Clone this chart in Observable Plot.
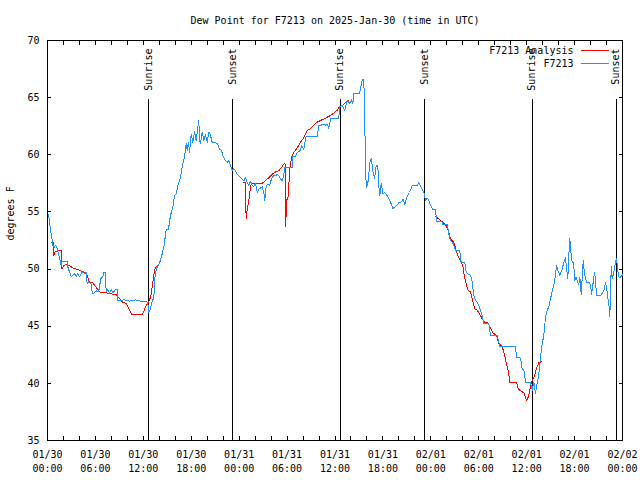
<!DOCTYPE html>
<html>
<head>
<meta charset="utf-8">
<script src="https://cdn.jsdelivr.net/npm/d3@7"></script>
<script src="https://cdn.jsdelivr.net/npm/@observablehq/plot@0.6"></script>
<style>
  html, body { margin: 0; padding: 0; background: #fff; }
  svg { shape-rendering: crispEdges; }
  svg text { shape-rendering: auto; }
</style>
</head>
<body>
<div id="chart"></div>
<script>
// ---- data (hours after 2025-01-30 00:00 UTC, dew point in °F) ----
const startTime = "2025-01-30T00:00:00Z";
const endTime = "2025-02-02T00:00:00Z";
const titleText = "Dew Point for F7213 on 2025-Jan-30 (time in UTC)";
const yLabel = "degrees F";
const seriesNames = ["F7213 Analysis", "F7213"];

const stationHours = [
  0.13, 0.38, 0.54, 0.66, 0.88, 1.0, 1.21, 1.5, 1.72, 1.79, 2.47, 2.5, 2.63, 2.97, 3.38, 3.59, 3.79, 4.01, 4.22, 4.42,
  4.63, 4.85, 4.97, 5.17, 5.47, 5.6, 5.8, 6.1, 6.3, 6.51, 6.64, 6.92, 7.05, 7.23, 7.35, 7.55, 7.76, 7.98, 8.18, 8.48,
  8.73, 8.75, 9.6, 10.3, 11.0, 11.6, 12.36, 12.56, 12.68, 12.9, 13.06, 13.31, 13.49, 13.74, 14.02, 14.24, 14.56, 14.86, 15.15, 15.4,
  15.69, 15.9, 16.12, 16.32, 16.65, 16.94, 17.15, 17.37, 17.49, 17.66, 17.78, 17.99, 18.19, 18.41, 18.62, 18.82, 18.95, 19.03, 19.16, 19.37,
  19.57, 19.78, 20.0, 20.2, 20.41, 20.62, 21.25, 21.54, 21.79, 21.95, 22.29, 22.5, 22.7, 22.92, 23.13, 23.33, 23.54, 23.75, 24.17, 24.58,
  24.79, 25.0, 25.21, 25.42, 25.63, 25.83, 26.05, 26.26, 26.46, 26.88, 27.09, 27.21, 27.39, 27.64, 27.8, 28.05, 28.34, 28.64, 28.76, 28.96,
  29.18, 29.39, 29.59, 29.71, 30.64, 30.72, 31.05, 31.27, 31.68, 31.81, 32.09, 32.22, 32.39, 33.77, 33.97, 34.31, 34.47, 34.81, 35.02, 35.22,
  35.44, 36.48, 36.56, 36.9, 37.23, 37.53, 37.82, 38.07, 38.23, 38.36, 39.07, 39.41, 39.61, 39.82, 39.91, 40.11, 40.23, 40.41, 40.57, 40.73,
  40.95, 41.16, 41.36, 41.48, 41.61, 41.79, 41.99, 42.24, 42.54, 42.74, 42.95, 43.24, 43.58, 43.99, 44.33, 44.54, 44.74, 45.04, 45.33, 45.67,
  46.29, 46.49, 46.71, 46.92, 47.12, 47.33, 47.55, 47.75, 47.96, 48.25, 48.59, 48.71, 49.34, 49.5, 50.05, 50.25, 50.46, 50.68, 50.88, 51.09,
  51.63, 51.72, 51.93, 52.25, 52.43, 52.68, 52.97, 53.18, 53.38, 53.59, 53.81, 54.01, 54.22, 54.43, 54.63, 55.26, 55.47, 56.31, 56.64, 58.6,
  58.73, 59.14, 59.32, 59.44, 59.64, 59.86, 60.48, 60.69, 60.9, 61.11, 61.32, 61.52, 61.73, 61.95, 62.15, 62.36, 62.57, 62.77, 62.99, 63.2,
  63.49, 63.61, 63.74, 63.9, 64.15, 64.45, 64.65, 64.86, 64.99, 65.15, 65.28, 65.4, 65.58, 65.7, 65.87, 66.03, 66.2, 66.33, 66.53, 66.66,
  66.83, 66.96, 67.08, 67.24, 67.49, 67.78, 68.0, 68.12, 68.33, 68.5, 68.62, 68.75, 69.25, 69.58, 69.75, 69.87, 70.0, 70.16, 70.29, 70.41,
  70.59, 70.71, 70.91, 71.12, 71.25, 71.41, 71.54, 71.75, 72.0
];
const stationValues = [
  54.8, 53.4, 52.8, 52.1, 51.9, 52.1, 51.8, 51.0, 50.3, 50.7, 50.7, 50.3, 50.0, 49.35, 49.6, 49.35, 49.6, 49.35, 49.6, 49.8,
  49.6, 49.7, 48.7, 48.9, 48.7, 47.9, 47.9, 48.1, 48.0, 48.3, 49.15, 49.3, 49.7, 49.7, 48.0, 48.2, 47.9, 48.2, 47.9, 48.2,
  48.2, 47.25, 47.3, 47.2, 47.3, 47.2, 47.2, 47.0, 46.2, 46.5, 47.1, 47.5, 49.6, 50.2, 50.5, 51.0, 51.9, 53.4, 53.5, 54.7,
  55.4, 56.4, 56.6, 57.3, 58.0, 59.2, 59.8, 60.96, 60.4, 61.1, 60.2, 61.8, 61.1, 62.0, 61.25, 62.4, 63.0, 61.25, 61.0, 62.0,
  61.25, 61.8, 61.1, 62.0, 61.7, 61.1, 61.0, 60.5, 60.4, 59.9, 59.5, 59.35, 59.5, 59.1, 58.6, 58.8, 58.6, 58.3, 58.0, 57.7,
  58.0, 57.6, 57.3, 57.7, 57.3, 57.2, 57.5, 56.7, 57.0, 57.2, 56.7, 56.0, 57.3, 57.4, 57.3, 57.9, 58.2, 58.2, 58.3, 58.2,
  57.9, 57.7, 58.3, 58.86, 58.86, 59.85, 59.85, 60.2, 60.4, 60.8, 60.5, 61.0, 61.6, 61.6, 62.6, 62.6, 62.7, 62.6, 62.7, 62.3,
  63.15, 63.15, 64.2, 64.3, 63.9, 64.75, 64.5, 64.8, 64.45, 65.33, 65.33, 66.6, 66.6, 59.5, 57.1, 57.5, 58.3, 59.5, 59.65, 58.6,
  57.9, 59.1, 59.1, 57.3, 56.4, 57.5, 56.6, 56.7, 56.4, 56.2, 55.85, 55.3, 55.45, 55.8, 55.9, 56.1, 55.65, 56.4, 56.7, 57.3,
  57.3, 57.6, 57.3, 57.0, 56.7, 56.0, 56.2, 56.0, 55.6, 55.2, 55.2, 54.2, 54.2, 53.9, 53.9, 53.1, 52.5, 52.35, 52.1, 51.6,
  51.6, 50.75, 50.6, 50.6, 49.7, 49.55, 49.45, 48.9, 47.7, 47.25, 47.1, 46.8, 46.4, 45.9, 45.2, 45.2, 44.2, 44.2, 43.2, 43.2,
  42.25, 42.25, 41.9, 41.2, 41.2, 40.1, 40.1, 39.4, 40.1, 39.15, 40.0, 40.8, 42.3, 43.5, 44.2, 45.8, 46.4, 46.7, 47.4, 48.1,
  48.85, 49.6, 50.3, 49.9, 49.45, 50.0, 50.6, 51.0, 50.1, 49.15, 51.2, 52.65, 51.2, 50.6, 50.6, 49.0, 49.3, 49.0, 48.6, 49.3,
  47.8, 49.3, 50.75, 49.6, 48.85, 48.85, 48.6, 47.8, 48.85, 49.7, 49.0, 47.7, 47.7, 48.0, 48.3, 48.85, 48.4, 47.5, 46.95, 45.8,
  50.2, 49.15, 49.7, 50.6, 50.9, 49.9, 49.3, 49.3, 49.5
];

// analysis series; null marks a gap in the line
const analysisHours = [
  0.54, 0.75, 0.8, 0.96, 1.29, 1.72, 1.79, 2.04, 2.34, 2.76, 3.17, 3.59, 4.01, 4.42, 4.85, 5.05, 5.26, 5.68, 6.1, 6.51,
  7.55, 8.18, 8.6, 9.02, 9.43, 9.85, 10.27, 10.56, 11.86, 12.36, 12.77, 12.98, 13.19, 13.4, 13.61, 13.8,
  19.0,
  24.58, 24.79, 24.87, 25.0, 25.2, 25.4, 25.5, 25.83, 26.88, 27.3, 27.72, 28.14, 28.56, 28.97, 29.31, 29.6, 29.74, 29.82, 29.95,
  30.16, 30.31, 30.56, 30.85, 31.27, 31.68, 32.1, 32.52, 32.93, 33.35, 33.77, 34.19, 34.81, 35.44, 35.86, 36.27, 36.56, 36.9, 37.23, 37.72,
  43.0,
  48.59, 49.22, 49.84, 50.18, 50.46, 50.88, 51.17, 51.5, 51.84, 52.0, 52.13, 52.43, 52.68, 52.97, 53.18, 53.5, 53.81, 54.09, 54.43, 54.76,
  55.17, 55.51, 55.81, 56.22, 56.51, 56.94, 57.19, 57.47, 57.76, 57.89, 58.73, 58.94, 59.36, 59.69, 59.98, 60.19, 60.4, 60.6, 60.94, 61.23,
  61.52, 61.86
];
const analysisValues = [
  52.35, 52.3, 51.2, 51.5, 51.6, 51.6, 50.0, 50.3, 50.45, 50.3, 50.1, 50.0, 49.9, 49.7, 49.7, 49.3, 48.85, 48.8, 48.4, 48.0,
  47.9, 47.8, 47.8, 47.4, 47.1, 47.0, 46.4, 46.0, 46.0, 46.8, 47.25, 47.8, 48.85, 49.9, 50.2, 50.2,
  null,
  57.6, 57.6, 54.4, 55.2, 56.0, 57.0, 57.4, 57.5, 57.5, 57.75, 58.0, 58.3, 58.5, 58.6, 58.9, 59.2, 59.2, 53.7, 56.0,
  56.4, 58.6, 59.8, 60.2, 60.6, 61.1, 61.5, 62.1, 62.3, 62.6, 62.85, 63.0, 63.2, 63.45, 63.65, 63.9, 64.2, 64.3, 64.5, 64.75,
  null,
  54.6, 54.25, 53.9, 53.4, 52.65, 52.35, 51.6, 51.0, 50.6, 50.3, 49.6, 48.7, 48.1, 48.0, 47.4, 46.5, 46.4, 46.1, 45.65, 45.35,
  45.3, 44.8, 44.4, 44.2, 43.5, 43.2, 42.6, 41.7, 40.85, 40.1, 40.1, 39.5, 39.3, 39.15, 38.5, 38.8, 39.4, 40.1, 40.6, 41.3,
  41.8, 41.9
];

const sunLabels = ["Sunrise", "Sunset", "Sunrise", "Sunset", "Sunrise", "Sunset"];
const sunTimes = ["2025-01-30T12:41Z", "2025-01-30T23:13Z", "2025-01-31T12:39Z", "2025-01-31T23:11Z", "2025-02-01T12:41Z", "2025-02-01T23:12Z"];

const yTicks = [35, 40, 45, 50, 55, 60, 65, 70];

// ---- build tables ----
const t0 = new Date(startTime);
const t1 = new Date(endTime);
const toDate = h => new Date(t0.getTime() + h * 3600e3);
const station = stationHours.map((h, i) => ({time: toDate(h), value: stationValues[i]}));
const analysis = analysisHours.map((h, i) => ({time: toDate(h), value: analysisValues[i] == null ? NaN : analysisValues[i]}));
const sun = sunTimes.map((t, i) => ({time: new Date(t), label: sunLabels[i]}));
const minorTicks = d3.utcHour.every(2).range(t0, new Date(t1.getTime() + 1));
const majorTicks = d3.utcHour.every(6).range(t0, new Date(t1.getTime() + 1));

const RED = "#ff0000";
const BLUE = "#1e90ff";

const chart = Plot.plot({
  width: 640,
  height: 480,
  marginLeft: 47,
  marginRight: 18,
  marginTop: 40,
  marginBottom: 40,
  style: {fontFamily: "'DejaVu Sans Mono', monospace", fontSize: "10px", background: "white", color: "black"},
  x: {type: "utc", domain: [t0, t1]},
  y: {domain: [35, 70]},
  marks: [
    Plot.frame({stroke: "black"}),
    // x ticks (inward, bottom and top)
    Plot.axisX({anchor: "bottom", ticks: minorTicks, tickSize: -4, fill: "none", label: null}),
    Plot.axisX({anchor: "top", ticks: minorTicks, tickSize: -4, fill: "none", label: null}),
    Plot.axisX({anchor: "bottom", ticks: majorTicks, tickSize: 0, tickPadding: 8, lineHeight: 1.35,
      tickFormat: d3.utcFormat("%m/%d\n%H:%M"), label: null, fontSize: 10}),
    // y ticks (inward, left and right)
    Plot.axisY({anchor: "left", ticks: yTicks, tickSize: -4, fill: "none", label: null}),
    Plot.axisY({anchor: "right", ticks: yTicks, tickSize: -4, fill: "none", label: null}),
    Plot.axisY({anchor: "left", ticks: yTicks, tickSize: 0, tickPadding: 8, label: null, fontSize: 10}),
    // sunrise / sunset
    Plot.ruleX(sun, {x: "time", stroke: "black", insetTop: 59}),
    Plot.text(sun, {x: "time", text: "label", frameAnchor: "top", lineAnchor: "middle", rotate: -90, textAnchor: "end", dy: 8, fontSize: 10}),
    // series
    Plot.line(analysis, {x: "time", y: "value", stroke: RED, strokeWidth: 1}),
    Plot.line(station, {x: "time", y: "value", stroke: BLUE, strokeWidth: 1}),
    // title and y label
    Plot.text([titleText], {frameAnchor: "top", lineAnchor: "middle", dy: -20, fontSize: 10}),
    Plot.text([yLabel], {frameAnchor: "left", lineAnchor: "middle", rotate: -90, dx: -37, fontSize: 10}),
    // legend labels
    Plot.text([seriesNames[0]], {frameAnchor: "top-right", lineAnchor: "middle", textAnchor: "end", dx: -49, dy: 10, fontSize: 10}),
    Plot.text([seriesNames[1]], {frameAnchor: "top-right", lineAnchor: "middle", textAnchor: "end", dx: -49, dy: 23, fontSize: 10})
  ]
});

// legend swatches
const svg = d3.select(chart);
const frameRight = 640 - 18;
[[RED, 50], [BLUE, 63]].forEach(([c, y]) => {
  svg.append("line")
    .attr("x1", frameRight - 41).attr("x2", frameRight - 13)
    .attr("y1", y + 0.5).attr("y2", y + 0.5)
    .attr("stroke", c).attr("stroke-width", 1);
});

document.getElementById("chart").appendChild(chart);
</script>
</body>
</html>
